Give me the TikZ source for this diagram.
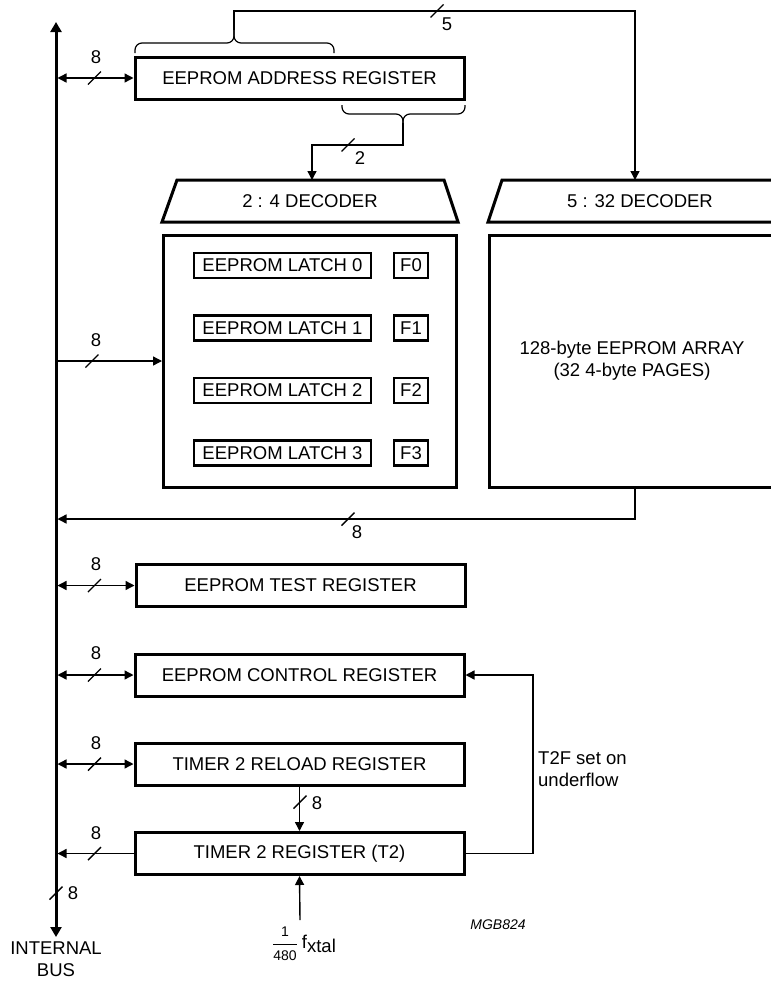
\documentclass[tikz,border=0pt]{standalone}
\usepackage{fontspec}
\setmainfont{Liberation Sans}
\usetikzlibrary{arrows.meta,calc}
\newcommand\bigfont{\fontsize{18.5}{22}\selectfont}
\newcommand\smallfnt{\fontsize{14}{16}\selectfont}
\begin{document}
\begin{tikzpicture}[x=1pt,y=-1pt,
  every node/.style={font=\bigfont,inner sep=0pt},
  box/.style={draw,line width=3pt},
  reg/.style={box,minimum width=329pt,minimum height=42pt},
  latch/.style={draw,line width=2.5pt,minimum width=177pt,minimum height=25pt},
  flag/.style={draw,line width=2.5pt,minimum width=34pt,minimum height=25pt},
  conn/.style={line width=1.4pt},
  tip/.style={-{Triangle[length=9pt,width=9pt]}},
  dtip/.style={{Triangle[length=9pt,width=9pt]}-{Triangle[length=9pt,width=9pt]}},
  bus/.style={line width=3pt,{Triangle[length=10pt,width=11pt]}-{Triangle[length=10pt,width=11pt]}},
  brace/.style={line width=1.2pt,rounded corners=7pt}
]
\clip (0,0) rectangle (771,988);
\fill[white] (0,0) rectangle (771,988);
\newcommand\busmark[1]{\draw[conn] ($(#1)+(-6.5,6.5)$) -- ($(#1)+(6.5,-6.5)$);}

% internal bus
\coordinate (busTop) at (56,22);
\coordinate (busBot) at (56,937);
\coordinate (busR) at (57.5,0);
\draw[bus] (busTop) -- (busBot);
\node[align=center] (buslbl) at (56,959) {INTERNAL\\BUS};

% registers
\node[reg] (addr) at (299.5,78) {EEPROM ADDRESS REGISTER};
\node[reg] (test) at (300.5,585.5) {EEPROM TEST REGISTER};
\node[reg] (ctrl) at (299.5,675) {EEPROM CONTROL REGISTER};
\node[reg] (reload) at (299.5,764) {TIMER 2 RELOAD REGISTER};
\node[reg] (t2) at (299.5,853.5) {TIMER 2 REGISTER (T2)};

% decoders
\draw[box,line join=miter] (162,222) -- (177,180) -- (444,180) -- (458,222) -- cycle;
\node (d24) at (310,201) {2 : 4 DECODER};
\coordinate (d24top) at (312,180);
\draw[box,line join=miter] (488,222) -- (502,180) -- (778,180) -- (792,222) -- cycle;
\node (d532) at (640,201) {5 : 32 DECODER};
\coordinate (d532top) at (635,180);

% latch block
\node[box,minimum width=293pt,minimum height=252pt] (latchbox) at (310,361) {};
\node[latch] (l0) at (282.5,265.5) {EEPROM LATCH 0};
\node[latch] (l1) at (282.5,328) {EEPROM LATCH 1};
\node[latch] (l2) at (282.5,390.5) {EEPROM LATCH 2};
\node[latch] (l3) at (282.5,453) {EEPROM LATCH 3};
\node[flag] (f0) at (411,265.5) {F0};
\node[flag] (f1) at (411,328) {F1};
\node[flag] (f2) at (411,390.5) {F2};
\node[flag] (f3) at (411,453) {F3};

% array
\node[box,minimum width=286pt,minimum height=252pt,align=center] (array) at (632,361) {128-byte EEPROM ARRAY\\(32 4-byte PAGES)};

% braces and address connections
\draw[brace] (135,53) -- (135,43) -- (234,43) -- (234,30);
\draw[brace] (334,53) -- (334,43) -- (234,43) -- (234,30);
\coordinate (btip) at (234,30);
\draw[conn,tip] (btip) -- (234,11) -| (d532top);
\busmark{437,11}
\node (n5) at (447,24) {5};

\draw[brace] (342,105) -- (342,114) -- (403,114) -- (403,123);
\draw[brace] (465,105) -- (465,114) -- (403,114) -- (403,123);
\coordinate (btip2) at (403,123);
\draw[conn,tip] (btip2) -- (403,145) -| (d24top);
\busmark{348,145}
\node (n2) at (360,158) {2};

% bus <-> registers
\draw[conn,dtip] (busR |- addr.west) -- (addr.west);
\busmark{94.5,78}
\node (n8a) at (96,57) {8};

\draw[conn,tip] (busR |- latchbox.west) -- (latchbox.west);
\busmark{92,361}
\node (n8b) at (96,340) {8};

\draw[conn,tip] (array.south -| d532top) |- (busR |- 0,519);
\busmark{348,519}
\node (n8c) at (357,532) {8};

\draw[conn,dtip] (busR |- test.west) -- (test.west);
\busmark{94.5,585.5}
\node (n8d) at (96,564) {8};

\draw[conn,dtip] (busR |- ctrl.west) -- (ctrl.west);
\busmark{94.5,675}
\node (n8e) at (96,653) {8};

\draw[conn,dtip] (busR |- reload.west) -- (reload.west);
\busmark{94.5,764}
\node (n8f) at (96,743) {8};

\draw[conn,tip] (t2.west) -- (busR |- t2.west);
\busmark{94.5,853.5}
\node (n8g) at (96,833) {8};

\busmark{56,893}
\node (n8h) at (73,893) {8};

% reload -> T2
\draw[conn,tip] (reload.south) -- (t2.north);
\busmark{300,802}
\node (n8i) at (317,803) {8};

% feedback
\coordinate (fb) at (533,764);
\draw[conn,tip] (t2.east) -| (fb) |- (ctrl.east);
\node[align=left,anchor=west] (t2f) at (538,769) {T2F set on\\underflow};

% clock
\coordinate (clkStart) at (300,920);
\draw[conn,tip] (clkStart) -- (t2.south);
\node[anchor=west] (clk) at (272,944) {$\displaystyle\frac{\mbox{\smallfnt 1}}{\mbox{\smallfnt 480}}$\hspace{4pt}f\raisebox{-0.35ex}{xtal}};

\node[font=\smallfnt\itshape] (mgb) at (498,925) {MGB824};
\end{tikzpicture}
\end{document}
